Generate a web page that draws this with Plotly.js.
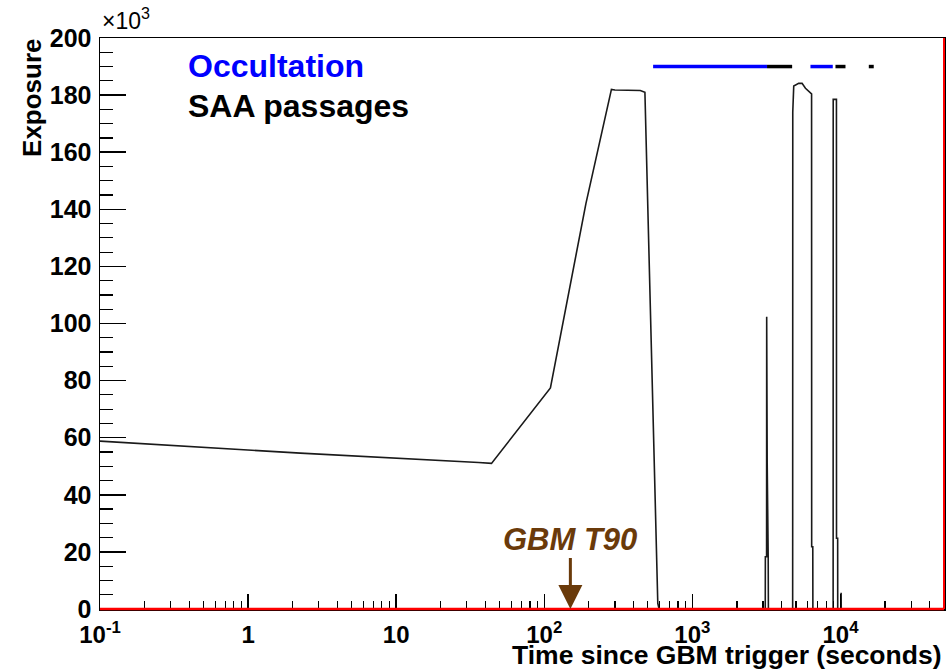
<!DOCTYPE html>
<html>
<head>
<meta charset="utf-8">
<script src="https://cdn.plot.ly/plotly-3.0.1.min.js"></script>
<style>
  html, body { margin: 0; padding: 0; background: #ffffff; }
  #chart { width: 947px; height: 671px; }
</style>
</head>
<body>
<div id="chart"></div>
<script>
// Exposure curve: time since trigger (s) and exposure
const timeSec = [
  0.1, 2.25, 36, 44, 110, 191, 284, 300, 445, 478, 584, 596,
  3105, 3110, 3170, 3175, 3200, 3250, 3260,
  4755, 4762, 4835, 5220, 5505, 5800, 6380, 6390, 6500, 6510,
  8920, 8930, 9390, 9400, 9570, 9580,
  10080, 10100, 10120, 50000
];
const exposure = [
  58800, 54600, 51300, 51000, 77400, 142000, 182000, 181800, 181600, 181000, 2000, 0,
  0, 18300, 18300, 102400, 51000, 18000, 0,
  0, 174000, 183200, 184100, 184100, 182400, 180400, 21800, 21800, 0,
  0, 178500, 178500, 24800, 24800, 0,
  0, 5700, 0, 0
];

// Earth occultation intervals (s)
const occultStart = [543, 6270];
const occultEnd   = [3192, 8870];

// SAA passage intervals (s)
const saaStart = [3192, 9250, 15530];
const saaEnd   = [4716, 10810, 16770];

// GBM T90 duration (s)
const t90 = 150;

// Axis ticks
const xTickVals = [0.1, 1, 10, 100, 1000, 10000];
const xTickText = ['10<sup>-1</sup>', '1', '10', '10<sup>2</sup>', '10<sup>3</sup>', '10<sup>4</sup>'];
const yTickVals = [0, 20000, 40000, 60000, 80000, 100000, 120000, 140000, 160000, 180000, 200000];
const yTickText = ['0', '20', '40', '60', '80', '100', '120', '140', '160', '180', '200'];

const FONT = 'Liberation Sans, Arial, Helvetica, sans-serif';
const BAR_LEVEL = 190000;   // height at which the interval bars are drawn
const BROWN = '#6a3a0a';

function intervalsToLine(starts, ends) {
  const xs = [], ys = [];
  starts.forEach((s, i) => {
    xs.push(s, ends[i], null);
    ys.push(BAR_LEVEL, BAR_LEVEL, null);
  });
  return { xs, ys };
}

const occ = intervalsToLine(occultStart, occultEnd);
const saa = intervalsToLine(saaStart, saaEnd);

const traces = [
  {
    x: timeSec, y: exposure, type: 'scatter', mode: 'lines',
    line: { color: '#1a1a1a', width: 1.6 },
    hoverinfo: 'skip', showlegend: false
  },
  {
    x: occ.xs, y: occ.ys, type: 'scatter', mode: 'lines',
    line: { color: '#0000ff', width: 3.5 },
    connectgaps: false, hoverinfo: 'skip', showlegend: false
  },
  {
    x: saa.xs, y: saa.ys, type: 'scatter', mode: 'lines',
    line: { color: '#000000', width: 3.5 },
    connectgaps: false, hoverinfo: 'skip', showlegend: false
  }
];

const bold = s => '<b>' + s + '</b>';

const layout = {
  width: 947, height: 671,
  margin: { l: 100, r: 3, t: 38, b: 62, pad: 0 },
  paper_bgcolor: '#ffffff', plot_bgcolor: '#ffffff',
  font: { family: FONT, color: '#000000' },
  showlegend: false,
  xaxis: {
    type: 'log',
    range: [Math.log10(0.1), Math.log10(50000)],
    tickmode: 'array', tickvals: xTickVals, ticktext: xTickText.map(bold),
    ticks: 'inside', ticklen: 15, tickwidth: 1.5, tickcolor: '#000000',
    tickfont: { family: FONT, size: 24, color: '#000000' },
    ticklabelstandoff: 4,
    showline: true, mirror: true, linecolor: '#000000', linewidth: 1.5,
    showgrid: false, zeroline: false,
    minor: { ticks: 'inside', ticklen: 8, tickwidth: 1.2, tickcolor: '#000000', dtick: 'D1', showgrid: false }
  },
  yaxis: {
    range: [0, 200000],
    tickmode: 'array', tickvals: yTickVals, ticktext: yTickText.map(bold),
    ticks: 'inside', ticklen: 26, tickwidth: 1.5, tickcolor: '#000000',
    tickfont: { family: FONT, size: 25, color: '#000000' },
    ticklabelstandoff: 2,
    showline: true, mirror: true, linecolor: '#000000', linewidth: 1.5,
    showgrid: false, zeroline: false,
    minor: { ticks: 'inside', ticklen: 13, tickwidth: 1.2, tickcolor: '#000000', dtick: 5000, showgrid: false }
  },
  shapes: [
    { type: 'line', xref: 'paper', yref: 'paper', x0: 0, x1: 1, y0: 0, y1: 0,
      line: { color: '#ff0000', width: 2.5 }, layer: 'above' },
    { type: 'line', xref: 'paper', yref: 'paper', x0: 1, x1: 1, y0: 0, y1: 1,
      line: { color: '#ff0000', width: 2 }, layer: 'above' }
  ],
  annotations: [
    { xref: 'paper', yref: 'paper', x: 0.102, y: 0.951, xanchor: 'left', yanchor: 'middle',
      text: bold('Occultation'), showarrow: false,
      font: { family: FONT, size: 32, color: '#0000ff' } },
    { xref: 'paper', yref: 'paper', x: 0.102, y: 0.881, xanchor: 'left', yanchor: 'middle',
      text: bold('SAA passages'), showarrow: false,
      font: { family: FONT, size: 32, color: '#000000' } },
    { xref: 'x', yref: 'y', x: Math.log10(t90), y: 0,
      text: '<b><i>GBM T90</i></b>', showarrow: true,
      ax: 0, ay: -70, arrowhead: 2, arrowsize: 1.6, arrowwidth: 3, arrowcolor: BROWN, standoff: 0,
      font: { family: FONT, size: 31, color: BROWN } },
    { xref: 'paper', yref: 'paper', x: 0, y: 1, xanchor: 'left', yanchor: 'bottom', yshift: 2,
      text: '×10<sup>3</sup>', showarrow: false,
      font: { family: FONT, size: 23, color: '#000000' } },
    { xref: 'paper', yref: 'paper', x: -0.0806, y: 0.8967, xanchor: 'center', yanchor: 'middle',
      textangle: -90, text: bold('Exposure'), showarrow: false,
      font: { family: FONT, size: 26, color: '#000000' } },
    { xref: 'paper', yref: 'paper', x: 1, y: -0.0806, xanchor: 'right', yanchor: 'middle',
      text: bold('Time since GBM trigger (seconds)'), showarrow: false,
      font: { family: FONT, size: 26.5, color: '#000000' } }
  ]
};

Plotly.newPlot('chart', traces, layout, { staticPlot: true, displayModeBar: false });
</script>
</body>
</html>
